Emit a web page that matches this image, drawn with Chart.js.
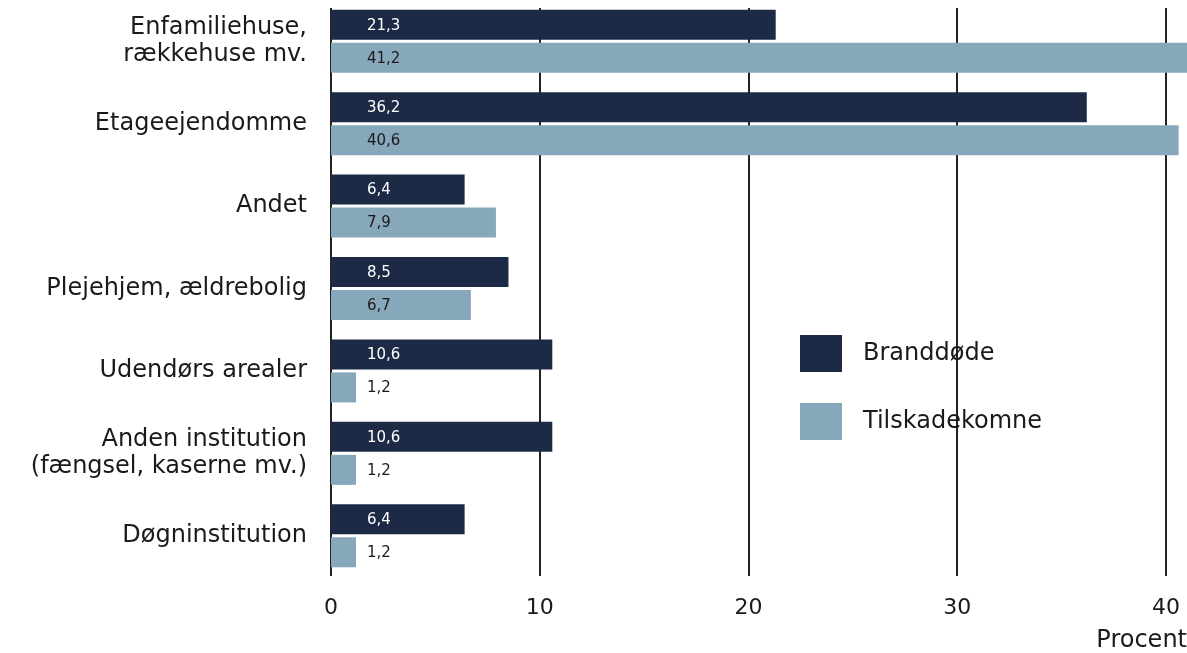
<!DOCTYPE html>
<html lang="da">
<head>
<meta charset="utf-8">
<script src="https://cdn.jsdelivr.net/npm/chart.js@4.4.1/dist/chart.umd.min.js"></script>
<style>
  html, body { margin: 0; padding: 0; background: #fff; }
  #wrap { position: relative; width: 1187px; height: 653px; }
</style>
</head>
<body>
<div id="wrap"><canvas id="brandChart"></canvas></div>
<script>
const categories = [
  ['Enfamiliehuse,', 'rækkehuse mv.'],
  'Etageejendomme',
  'Andet',
  'Plejehjem, ældrebolig',
  'Udendørs arealer',
  ['Anden institution', '(fængsel, kaserne mv.)'],
  'Døgninstitution',
];
const seriesNames = ['Branddøde', 'Tilskadekomne'];
const branddode = [21.3, 36.2, 6.4, 8.5, 10.6, 10.6, 6.4];
const tilskadekomne = [41.2, 40.6, 7.9, 6.7, 1.2, 1.2, 1.2];
const xTicks = [0, 10, 20, 30, 40];

const DARK = '#1c2a45';
const LIGHT = '#87a7bb';
const INK = '#1a1a1a';
const FONT = "'DejaVu Sans', sans-serif";

// vertical lines at each tick, drawn behind the bars
const gridLines = {
  id: 'gridLines',
  beforeDatasetsDraw(chart) {
    const { ctx, chartArea, scales } = chart;
    ctx.save();
    ctx.strokeStyle = '#222';
    ctx.lineWidth = 2;
    scales.x.ticks.forEach((t) => {
      const px = Math.round(scales.x.getPixelForValue(t.value));
      ctx.beginPath();
      ctx.moveTo(px, chartArea.top + 8);
      ctx.lineTo(px, chartArea.bottom - 1);
      ctx.stroke();
    });
    ctx.restore();
  },
};

// value labels near the start of each bar
const valueLabels = {
  id: 'valueLabels',
  afterDatasetsDraw(chart) {
    const { ctx, scales } = chart;
    const x0 = scales.x.getPixelForValue(0);
    ctx.save();
    ctx.font = '15px ' + FONT;
    ctx.textAlign = 'left';
    ctx.textBaseline = 'middle';
    chart.data.datasets.forEach((ds, i) => {
      chart.getDatasetMeta(i).data.forEach((bar, j) => {
        ctx.fillStyle = i === 0 ? '#fff' : INK;
        ctx.fillText(ds.data[j].toFixed(1).replace('.', ','), x0 + 36, bar.y + 1);
      });
    });
    ctx.restore();
  },
};

// legend sitting inside the plot, right side
const boxLegend = {
  id: 'boxLegend',
  afterDraw(chart) {
    const { ctx } = chart;
    ctx.save();
    ctx.font = '24px ' + FONT;
    ctx.textBaseline = 'middle';
    chart.data.datasets.forEach((ds, i) => {
      const y = 335 + i * 68;
      ctx.fillStyle = ds.backgroundColor;
      ctx.fillRect(800, y, 42, 37);
      ctx.fillStyle = INK;
      ctx.fillText(ds.label, 863, y + 19);
    });
    ctx.restore();
  },
};

new Chart(document.getElementById('brandChart'), {
  type: 'bar',
  data: {
    labels: categories,
    datasets: [
      { label: seriesNames[0], data: branddode, backgroundColor: DARK },
      { label: seriesNames[1], data: tilskadekomne, backgroundColor: LIGHT },
    ],
  },
  options: {
    indexAxis: 'y',
    responsive: true,
    maintainAspectRatio: false,
    animation: false,
    categoryPercentage: 0.8,
    barPercentage: 0.91,
    layout: { padding: 0 },
    plugins: {
      legend: { display: false },
      tooltip: { enabled: false },
    },
    scales: {
      x: {
        min: 0,
        max: 41,
        afterFit(scale) {
          scale.height = 76;
          scale.paddingLeft = 0;
          scale.paddingRight = 0;
        },
        afterBuildTicks(scale) { scale.ticks = xTicks.map((v) => ({ value: v })); },
        grid: { display: false },
        border: { display: false },
        ticks: {
          color: INK,
          padding: 10,
          font: { family: FONT, size: 22 },
        },
        title: {
          display: true,
          text: 'Procent',
          align: 'end',
          color: INK,
          padding: { top: 0, bottom: -2 },
          font: { family: FONT, size: 24 },
        },
      },
      y: {
        afterFit(scale) {
          scale.width = 331;
          scale.paddingTop = 0;
          scale.paddingBottom = 0;
        },
        grid: { display: false },
        border: { display: false },
        ticks: {
          color: INK,
          padding: 16,
          font: { family: FONT, size: 24, lineHeight: 1.12 },
        },
      },
    },
  },
  plugins: [gridLines, valueLabels, boxLegend],
});
</script>
</body>
</html>
